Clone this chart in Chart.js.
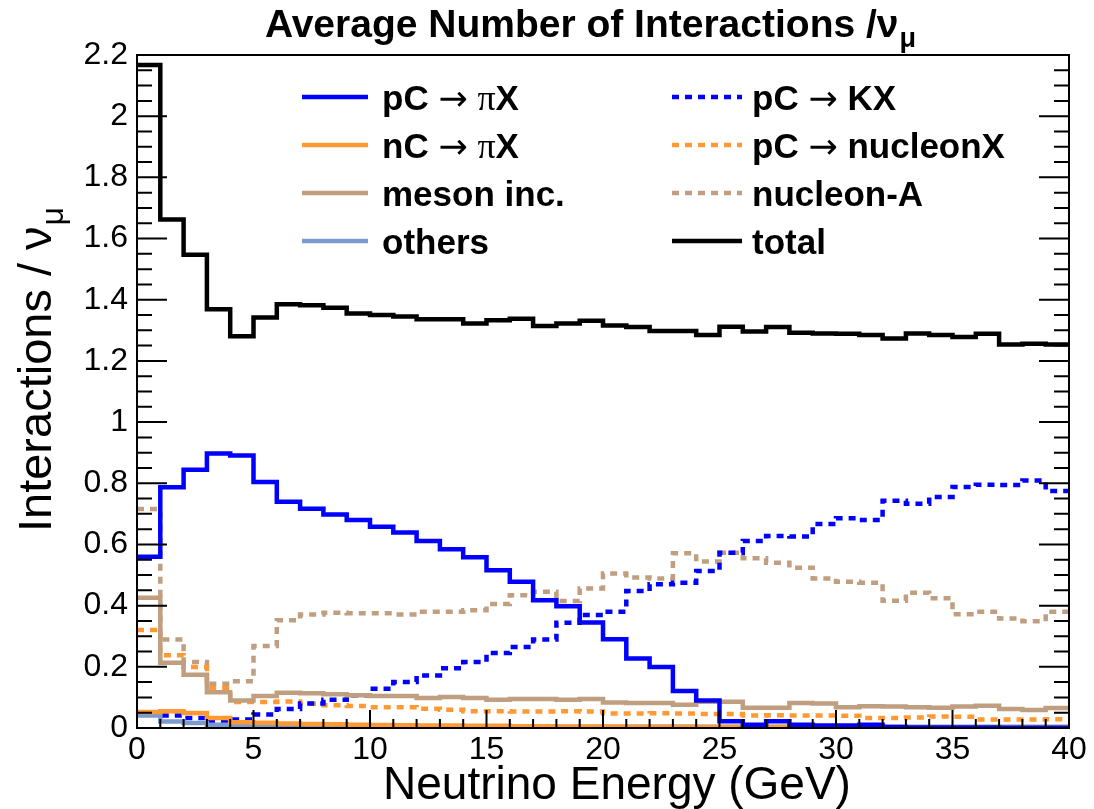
<!DOCTYPE html>
<html>
<head>
<meta charset="utf-8">
<title>Average Number of Interactions per numu</title>
<script src="https://cdn.jsdelivr.net/npm/chart.js@4.4.1/dist/chart.umd.min.js"></script>
<style>
  html, body { margin: 0; padding: 0; background: #fff; }
  canvas { display: block; }
</style>
</head>
<body>
<canvas id="myChart" width="1094" height="809"></canvas>
<script>
// low edges of the 1 GeV energy bins, plus the closing edge at 40 GeV
const binEdges = [0, 1, 2, 3, 4, 5, 6, 7, 8, 9, 10, 11, 12, 13, 14, 15, 16, 17, 18, 19,
  20, 21, 22, 23, 24, 25, 26, 27, 28, 29, 30, 31, 32, 33, 34, 35, 36, 37, 38, 39, 40];

// interactions per nu_mu in each bin
const pcPi = [0.560, 0.787, 0.844, 0.897, 0.891, 0.804, 0.740, 0.717, 0.698, 0.680,
  0.658, 0.639, 0.611, 0.584, 0.558, 0.516, 0.478, 0.418, 0.398, 0.345,
  0.290, 0.227, 0.199, 0.121, 0.090, 0.022, 0.011, 0.022, 0.011, 0.008,
  0.008, 0.011, 0.003, 0.002, 0.002, 0.002, 0.002, 0.001, 0.001, 0.001];
const ncPi = [0.052, 0.055, 0.049, 0.033, 0.019, 0.017, 0.015, 0.013, 0.012, 0.011,
  0.010, 0.009, 0.008, 0.008, 0.007, 0.007, 0.006, 0.006, 0.005, 0.005,
  0.005, 0.004, 0.004, 0.004, 0.003, 0.003, 0.003, 0.003, 0.003, 0.002,
  0.002, 0.002, 0.002, 0.002, 0.002, 0.002, 0.002, 0.001, 0.001, 0.001];
const mesonInc = [0.426, 0.213, 0.174, 0.117, 0.090, 0.105, 0.115, 0.114, 0.110, 0.107,
  0.105, 0.105, 0.098, 0.101, 0.098, 0.092, 0.095, 0.095, 0.092, 0.095,
  0.083, 0.082, 0.082, 0.076, 0.086, 0.086, 0.066, 0.066, 0.082, 0.080,
  0.068, 0.071, 0.070, 0.068, 0.066, 0.070, 0.073, 0.062, 0.059, 0.065];
const others = [0.041, 0.021, 0.016, 0.011, 0.008, 0.007, 0.006, 0.006, 0.005, 0.005,
  0.005, 0.005, 0.005, 0.004, 0.004, 0.004, 0.004, 0.004, 0.004, 0.004,
  0.004, 0.004, 0.004, 0.004, 0.004, 0.004, 0.004, 0.004, 0.004, 0.004,
  0.004, 0.004, 0.004, 0.004, 0.004, 0.004, 0.004, 0.004, 0.004, 0.004];
const pcK = [0.045, 0.041, 0.033, 0.022, 0.028, 0.044, 0.062, 0.080, 0.092, 0.107,
  0.128, 0.150, 0.172, 0.195, 0.216, 0.245, 0.265, 0.289, 0.344, 0.369,
  0.380, 0.448, 0.470, 0.475, 0.513, 0.573, 0.611, 0.628, 0.626, 0.667,
  0.686, 0.680, 0.743, 0.733, 0.755, 0.788, 0.795, 0.794, 0.809, 0.775];
const pcNucleon = [0.320, 0.238, 0.199, 0.131, 0.085, 0.085, 0.087, 0.079, 0.074, 0.072,
  0.068, 0.068, 0.063, 0.060, 0.055, 0.055, 0.054, 0.054, 0.055, 0.054,
  0.047, 0.047, 0.048, 0.047, 0.046, 0.046, 0.041, 0.042, 0.041, 0.041,
  0.040, 0.033, 0.033, 0.034, 0.038, 0.037, 0.028, 0.028, 0.028, 0.029];
const nucleonA = [0.716, 0.289, 0.216, 0.145, 0.153, 0.268, 0.352, 0.371, 0.377, 0.375,
  0.375, 0.371, 0.380, 0.380, 0.385, 0.405, 0.434, 0.445, 0.415, 0.456,
  0.505, 0.492, 0.489, 0.571, 0.544, 0.573, 0.555, 0.540, 0.524, 0.489,
  0.478, 0.475, 0.416, 0.442, 0.424, 0.372, 0.380, 0.358, 0.349, 0.380];
const total = [2.167, 1.662, 1.547, 1.369, 1.281, 1.342, 1.385, 1.382, 1.374, 1.355,
  1.350, 1.345, 1.336, 1.336, 1.322, 1.333, 1.338, 1.314, 1.322, 1.331,
  1.316, 1.311, 1.298, 1.298, 1.285, 1.312, 1.296, 1.311, 1.292, 1.290,
  1.289, 1.285, 1.273, 1.290, 1.285, 1.278, 1.289, 1.254, 1.256, 1.254];

const FONT = '"Liberation Sans", Arial, Helvetica, sans-serif';
const DOTS = [7, 6];

// histogram outline: one point per low edge, last value repeated at the top edge
function histPoints(values) {
  return binEdges.map((x, i) => ({ x: x, y: values[Math.min(i, values.length - 1)] }));
}

function histSet(label, values, color, dash) {
  return {
    label: label,
    data: histPoints(values),
    borderColor: color,
    borderWidth: 4.5,
    borderDash: dash || [],
    borderCapStyle: 'butt',
    borderJoinStyle: 'miter',
    stepped: true,
    pointRadius: 0,
    fill: false
  };
}

// text with a subscript tail, like ROOT's #nu_{#mu}
function drawWithSub(ctx, main, sub, x, y, size, subSize, weight) {
  ctx.font = weight + ' ' + size + 'px ' + FONT;
  const w1 = ctx.measureText(main).width;
  ctx.font = weight + ' ' + subSize + 'px ' + FONT;
  const w2 = ctx.measureText(sub).width;
  const start = x - (w1 + w2) / 2;
  ctx.textAlign = 'left';
  ctx.textBaseline = 'alphabetic';
  ctx.font = weight + ' ' + size + 'px ' + FONT;
  ctx.fillText(main, start, y);
  ctx.font = weight + ' ' + subSize + 'px ' + FONT;
  ctx.fillText(sub, start + w1 + 1, y + size * 0.25);
}

// legend label: arrow and pi in a lighter symbol-like face, the rest bold
function drawLabel(ctx, label, x, y) {
  let cx = x;
  ctx.textAlign = 'left';
  ctx.textBaseline = 'alphabetic';
  for (const ch of label) {
    if (ch === '\u2192') ctx.font = '35px "DejaVu Sans", ' + FONT;
    else if (ch === '\u03c0') ctx.font = '36px "Liberation Serif", serif';
    else ctx.font = 'bold 35px ' + FONT;
    ctx.fillText(ch, cx, y);
    cx += ctx.measureText(ch).width;
  }
}

const rootStyle = {
  id: 'rootStyle',
  beforeDraw(chart) {
    const ctx = chart.ctx;
    ctx.save();
    ctx.fillStyle = '#fff';
    ctx.fillRect(0, 0, chart.width, chart.height);
    ctx.restore();
  },
  afterDraw(chart) {
    const { ctx, chartArea: a, scales: { x, y } } = chart;
    ctx.save();
    ctx.strokeStyle = '#000';
    ctx.fillStyle = '#000';
    ctx.lineWidth = 2;
    ctx.strokeRect(a.left, a.top, a.right - a.left, a.bottom - a.top);

    // inward ticks: y on both sides, x on the bottom
    ctx.beginPath();
    for (let i = 0; i <= 44; i++) {
      const py = y.getPixelForValue(i * 0.05);
      const len = i % 4 === 0 ? 30 : 15;
      ctx.moveTo(a.left, py); ctx.lineTo(a.left + len, py);
      ctx.moveTo(a.right, py); ctx.lineTo(a.right - len, py);
    }
    for (let e = 0; e <= 40; e++) {
      const px = x.getPixelForValue(e);
      const len = e % 5 === 0 ? 18 : 9;
      ctx.moveTo(px, a.bottom); ctx.lineTo(px, a.bottom - len);
    }
    ctx.stroke();

    // legend, two columns of four
    chart.data.datasets.forEach((ds, i) => {
      const col = Math.floor(i / 4);
      const row = i % 4;
      const ly = 97 + row * 48;
      const x0 = col ? 672 : 302;
      const x1 = col ? 742 : 368;
      ctx.save();
      ctx.strokeStyle = ds.borderColor;
      ctx.lineWidth = ds.borderWidth;
      ctx.setLineDash(ds.borderDash);
      ctx.beginPath();
      ctx.moveTo(x0, ly); ctx.lineTo(x1, ly);
      ctx.stroke();
      ctx.restore();
      drawLabel(ctx, ds.label, col ? 752 : 382, ly + 13);
    });

    // titles
    drawWithSub(ctx, 'Average Number of Interactions /\u03bd', '\u03bc', 590, 37, 39, 27, 'bold');
    ctx.font = '46px ' + FONT;
    ctx.textAlign = 'center';
    ctx.textBaseline = 'alphabetic';
    ctx.fillText('Neutrino Energy (GeV)', 617, 799);
    ctx.save();
    ctx.translate(51, 370);
    ctx.rotate(-Math.PI / 2);
    drawWithSub(ctx, 'Interactions / \u03bd', '\u03bc', 0, 0, 47, 32, 'normal');
    ctx.restore();
    ctx.restore();
  }
};

const ctx = document.getElementById('myChart').getContext('2d');
const myChart = new Chart(ctx, {
  type: 'line',
  data: {
    datasets: [
      histSet('pC \u2192 \u03c0X', pcPi, '#0000ff'),
      histSet('nC \u2192 \u03c0X', ncPi, '#ff9933'),
      histSet('meson inc.', mesonInc, '#bf9f80'),
      histSet('others', others, '#7b9ad0'),
      histSet('pC \u2192 KX', pcK, '#0000ff', DOTS),
      histSet('pC \u2192 nucleonX', pcNucleon, '#ff9933', DOTS),
      histSet('nucleon-A', nucleonA, '#bf9f80', DOTS),
      histSet('total', total, '#000000')
    ]
  },
  options: {
    responsive: false,
    animation: false,
    devicePixelRatio: 1,
    layout: { padding: { top: 55, right: 25, left: 0, bottom: 0 } },
    plugins: {
      legend: { display: false },
      title: { display: false },
      tooltip: { enabled: false }
    },
    scales: {
      x: {
        type: 'linear',
        min: 0,
        max: 40,
        grid: { display: false },
        border: { display: false },
        ticks: {
          stepSize: 5,
          padding: -5,
          maxRotation: 0,
          color: '#000',
          font: { family: FONT, size: 32 }
        },
        afterFit: s => { s.height = 81; }
      },
      y: {
        min: 0,
        max: 2.2,
        grid: { display: false },
        border: { display: false },
        ticks: {
          stepSize: 0.2,
          padding: 1,
          color: '#000',
          font: { family: FONT, size: 32 },
          callback: v => String(+v.toFixed(1))
        },
        afterFit: s => { s.width = 137; }
      }
    }
  },
  plugins: [rootStyle]
});
</script>
</body>
</html>
